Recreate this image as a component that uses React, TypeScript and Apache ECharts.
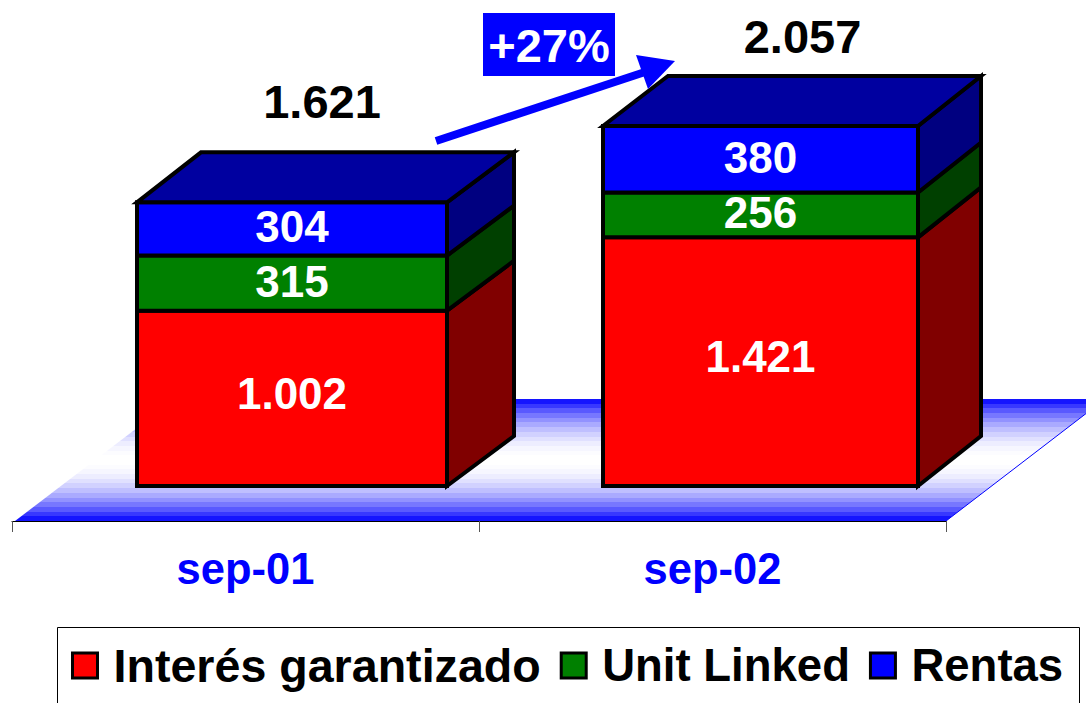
import React, { useEffect, useRef } from "react";
import * as echarts from "echarts";

const categories = ["sep-01", "sep-02"];
const garantizado = [1002, 1421];
const unitLinked = [315, 256];
const rentas = [304, 380];
const growthLabel = "+27%";

const FONT = '"Liberation Sans", Arial, sans-serif';
const stacks = [garantizado, unitLinked, rentas];
const names = ["Interés garantizado", "Unit Linked", "Rentas"];
const front = ["#ff0000", "#008000", "#0000ff"];
const side = ["#800000", "#004000", "#000080"];
const topFace = "#0000a0";
const BACK_WIDTH = 313;
// geometry of each oblique box relative to its category band centre
const boxes = [
  { offset: 46.5, width: 310, depth: 67, rise: 50, totalDx: 30, totalDy: -101 },
  { offset: 48, width: 315, depth: 63, rise: 50, totalDx: 42, totalDy: -90 },
];

const fmt = (v: number) => String(v).replace(/\B(?=(\d{3})+$)/g, ".");

function floorStops() {
  const n = 26;
  const stops: { offset: number; color: string }[] = [];
  for (let i = 0; i < n; i++) {
    const mid = (i + 0.5) / n;
    const d = Math.abs(mid - 0.5) * 2;
    const w = 1 - d * d;
    const c = Math.round(255 * Math.max(w, 0.08));
    const color = `rgb(${c},${c},255)`;
    stops.push({ offset: i / n, color }, { offset: (i + 1) / n, color });
  }
  return stops;
}

function makeRender(layer: number) {
  return (params: any, api: any) => {
    const i = params.dataIndex;
    const b = boxes[i];
    let base = 0;
    for (let k = 0; k < layer; k++) base += stacks[k][i];
    const v = api.value(1);
    const x0 = api.coord([api.value(0), base]);
    const x1 = api.coord([api.value(0), base + v]);
    const l = x0[0] + b.offset - b.width / 2;
    const r = l + b.width;
    const yb = x0[1];
    const yt = x1[1];
    const dx = b.depth;
    const dy = b.rise;
    const stroke = { stroke: "#000", lineWidth: 4, lineJoin: "miter" };
    const children: any[] = [
      {
        type: "polygon",
        shape: { points: [[r, yb], [r + dx, yb - dy], [r + dx, yt - dy], [r, yt]] },
        style: { fill: side[layer], ...stroke },
      },
      {
        type: "polygon",
        shape: { points: [[l, yb], [r, yb], [r, yt], [l, yt]] },
        style: { fill: front[layer], ...stroke },
      },
      {
        type: "text",
        x: (l + r) / 2,
        y: (yb + yt) / 2 - (layer === 0 ? 5 : 2),
        z2: 10,
        style: {
          text: fmt(v),
          fill: "#fff",
          font: `bold 44px ${FONT}`,
          align: "center",
          verticalAlign: "middle",
        },
      },
    ];
    if (layer === stacks.length - 1) {
      children.push({
        type: "polygon",
        shape: { points: [[l, yt], [r, yt], [r + dx, yt - dy], [r + dx - BACK_WIDTH, yt - dy]] },
        style: { fill: topFace, ...stroke },
      });
      let total = 0;
      for (let k = 0; k < stacks.length; k++) total += stacks[k][i];
      children.push({
        type: "text",
        x: (l + r) / 2 + b.totalDx,
        y: yt + b.totalDy,
        z2: 10,
        style: {
          text: fmt(total),
          fill: "#000",
          font: `bold 47px ${FONT}`,
          align: "center",
          verticalAlign: "middle",
        },
      });
    }
    return { type: "group", children };
  };
}

export default function App() {
  const ref = useRef<HTMLDivElement>(null);
  useEffect(() => {
    const chart = echarts.init(ref.current!, null, { renderer: "svg" });
    chart.setOption({
      animation: false,
      backgroundColor: "#fff",
      grid: { left: 12, right: 140, top: 31, bottom: 182 },
      xAxis: {
        type: "category",
        data: categories,
        axisLine: { show: true, onZero: false, lineStyle: { color: "#000", width: 1 } },
        axisTick: { show: true, length: 11, lineStyle: { color: "#555", width: 1 } },
        axisLabel: {
          margin: 26,
          color: "#0000ff",
          fontFamily: FONT,
          fontWeight: "bold",
          fontSize: 43.5,
        },
      },
      yAxis: { type: "value", min: -200, max: 2600, show: false, splitLine: { show: false } },
      legend: {
        left: 71,
        top: 642,
        orient: "horizontal",
        padding: 0,
        itemGap: 19,
        itemWidth: 25,
        itemHeight: 25,
        icon: "rect",
        data: [
          { name: names[0], textStyle: { fontSize: 46.6 } },
          { name: names[1] },
          { name: names[2] },
        ],
        itemStyle: { borderColor: "#000", borderWidth: 3 },
        textStyle: {
          color: "#000",
          fontFamily: FONT,
          fontWeight: "bold",
          fontSize: 45.5,
          padding: [0, 0, 3, 11],
        },
      },
      graphic: [
        {
          type: "polygon",
          z: -1,
          silent: true,
          shape: { points: [[15, 521], [946, 521], [1105, 399], [175, 399]] },
          style: { fill: new echarts.graphic.LinearGradient(0, 0, 0, 1, floorStops()) },
        },
        {
          type: "line",
          z: -1,
          silent: true,
          shape: { x1: 946, y1: 521, x2: 1105, y2: 399 },
          style: { stroke: "#0000ff", lineWidth: 1 },
        },
        {
          type: "rect",
          z: -1,
          silent: true,
          shape: { x: 57.5, y: 627.5, width: 1022, height: 100 },
          style: { fill: "#fff", stroke: "#000", lineWidth: 1 },
        },
        {
          type: "rect",
          z: 20,
          silent: true,
          shape: { x: 483, y: 13, width: 132, height: 63 },
          style: { fill: "#0000ff" },
        },
        {
          type: "text",
          z: 21,
          silent: true,
          x: 549,
          y: 45,
          style: {
            text: growthLabel,
            fill: "#fff",
            font: `bold 47px ${FONT}`,
            align: "center",
            verticalAlign: "middle",
          },
        },
        {
          type: "line",
          z: 20,
          silent: true,
          shape: { x1: 436, y1: 141, x2: 645, y2: 72 },
          style: { stroke: "#0000ff", lineWidth: 8 },
        },
        {
          type: "polygon",
          z: 20,
          silent: true,
          shape: { points: [[675, 61], [636, 55], [648, 89]] },
          style: { fill: "#0000ff" },
        },
      ],
      series: stacks.map((vals, layer) => ({
        type: "custom",
        name: names[layer],
        coordinateSystem: "cartesian2d",
        itemStyle: { color: front[layer] },
        encode: { x: 0, y: 1 },
        data: vals.map((v, i) => [categories[i], v]),
        renderItem: makeRender(layer),
      })),
    });
    return () => chart.dispose();
  }, []);
  return (
    <div
      ref={ref}
      style={{ position: "fixed", left: 0, top: 0, width: 1086, height: 703, overflow: "hidden" }}
    />
  );
}
